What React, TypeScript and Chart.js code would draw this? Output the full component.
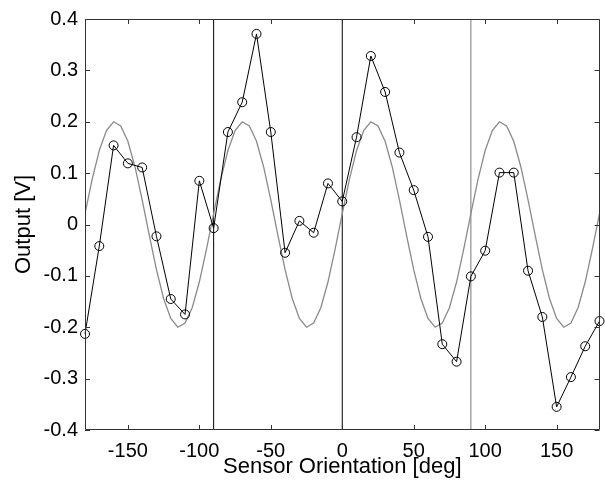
import React, { useEffect, useRef } from "react";
import { Chart, registerables } from "chart.js";

Chart.register(...registerables);

// Measured sensor output (every 10 deg)
const angles = [
  -180, -170, -160, -150, -140, -130, -120, -110, -100, -90, -80, -70, -60, -50, -40, -30, -20, -10,
  0, 10, 20, 30, 40, 50, 60, 70, 80, 90, 100, 110, 120, 130, 140, 150, 160, 170, 180,
];
const measured = [
  -0.213, -0.042, 0.154, 0.119, 0.111, -0.023, -0.145, -0.175, 0.085, -0.007, 0.18, 0.238, 0.371,
  0.18, -0.055, 0.007, -0.016, 0.08, 0.045, 0.17, 0.328, 0.258, 0.14, 0.067, -0.024, -0.233, -0.267,
  -0.101, -0.051, 0.101, 0.101, -0.09, -0.18, -0.355, -0.297, -0.237, -0.188,
];

// Reference (gray) curve, every 5 deg
const modelAngles = [
  -180, -175, -170, -165, -160, -155, -150, -145, -140, -135, -130, -125, -120, -115, -110, -105,
  -100, -95, -90, -85, -80, -75, -70, -65, -60, -55, -50, -45, -40, -35, -30, -25, -20, -15, -10, -5,
  0, 5, 10, 15, 20, 25, 30, 35, 40, 45, 50, 55, 60, 65, 70, 75, 80, 85, 90, 95, 100, 105, 110, 115,
  120, 125, 130, 135, 140, 145, 150, 155, 160, 165, 170, 175, 180,
];
const model = [
  0.021, 0.088, 0.144, 0.183, 0.2, 0.192, 0.162, 0.112, 0.048, -0.021, -0.088, -0.144, -0.183, -0.2,
  -0.192, -0.162, -0.112, -0.048,
  0.021, 0.088, 0.144, 0.183, 0.2, 0.192, 0.162, 0.112, 0.048, -0.021, -0.088, -0.144, -0.183, -0.2,
  -0.192, -0.162, -0.112, -0.048,
  0.021, 0.088, 0.144, 0.183, 0.2, 0.192, 0.162, 0.112, 0.048, -0.021, -0.088, -0.144, -0.183, -0.2,
  -0.192, -0.162, -0.112, -0.048,
  0.021, 0.088, 0.144, 0.183, 0.2, 0.192, 0.162, 0.112, 0.048, -0.021, -0.088, -0.144, -0.183, -0.2,
  -0.192, -0.162, -0.112, -0.048,
  0.021,
];

// Vertical reference lines
const refLines = [-90, 0, 90];
const refColors = ["#000000", "#000000", "#777777"];

const xTicks = [-150, -100, -50, 0, 50, 100, 150];
const yMin = -0.4;
const yMax = 0.4;

const FONT = "'Liberation Sans', Arial, Helvetica, sans-serif";

export default function App() {
  const ref = useRef<HTMLCanvasElement>(null);

  useEffect(() => {
    const boxPlugin = {
      id: "matlabBox",
      afterDatasetsDraw(chart: any) {
        const { ctx, chartArea: a, scales } = chart;
        const xs = scales.x;
        const ys = scales.y;
        ctx.save();
        ctx.strokeStyle = "#333333";
        ctx.lineWidth = 1;
        ctx.beginPath();
        ctx.rect(Math.round(a.left) + 0.5, Math.round(a.top) + 0.5, Math.round(a.right - a.left) - 1, Math.round(a.bottom - a.top) - 1);
        ctx.stroke();
        const tl = 5;
        ctx.beginPath();
        xTicks.forEach((v) => {
          const px = Math.round(xs.getPixelForValue(v)) + 0.5;
          ctx.moveTo(px, a.bottom);
          ctx.lineTo(px, a.bottom - tl);
          ctx.moveTo(px, a.top);
          ctx.lineTo(px, a.top + tl);
        });
        ys.ticks.forEach((t: any) => {
          const py = Math.round(ys.getPixelForValue(t.value)) + 0.5;
          ctx.moveTo(a.left, py);
          ctx.lineTo(a.left + tl, py);
          ctx.moveTo(a.right, py);
          ctx.lineTo(a.right - tl, py);
        });
        ctx.stroke();
        ctx.restore();
      },
    };

    const refDatasets = refLines.map((v, i) => ({
      label: "ref" + v,
      data: [
        { x: v, y: yMin },
        { x: v, y: yMax },
      ],
      borderColor: refColors[i],
      borderWidth: 1,
      pointRadius: 0,
      tension: 0,
      order: 3,
    }));

    const chart = new Chart(ref.current as HTMLCanvasElement, {
      type: "line",
      data: {
        datasets: [
          ...refDatasets,
          {
            label: "model",
            data: modelAngles.map((x, i) => ({ x, y: model[i] })),
            borderColor: "#8a8a8a",
            borderWidth: 1.3,
            pointRadius: 0,
            tension: 0,
            order: 2,
          },
          {
            label: "measured",
            data: angles.map((x, i) => ({ x, y: measured[i] })),
            borderColor: "#000000",
            borderWidth: 1,
            pointRadius: 4.5,
            pointStyle: "circle",
            pointBorderColor: "#000000",
            pointBackgroundColor: "rgba(255,255,255,0)",
            pointBorderWidth: 1,
            tension: 0,
            clip: false as any,
            order: 1,
          },
        ] as any,
      },
      options: {
        responsive: false,
        animation: false,
        events: [],
        layout: { padding: { top: 15, right: 4, left: 0, bottom: 0 } },
        plugins: {
          legend: { display: false },
          tooltip: { enabled: false },
        },
        scales: {
          x: {
            type: "linear",
            min: -180,
            max: 180,
            afterBuildTicks: (scale: any) => {
              scale.ticks = xTicks.map((v) => ({ value: v }));
            },
            afterFit: (scale: any) => {
              scale.height = 58;
            },
            grid: { display: false, drawTicks: false },
            border: { display: false },
            ticks: {
              color: "#000000",
              font: { family: FONT, size: 20 },
              padding: 9,
              maxRotation: 0,
              autoSkip: false,
              callback: (v: any) => String(v),
            },
            title: {
              display: true,
              text: "Sensor Orientation [deg]",
              color: "#000000",
              font: { family: FONT, size: 22 },
              padding: { top: 0, bottom: 8 },
            },
          },
          y: {
            type: "linear",
            min: yMin,
            max: yMax,
            afterFit: (scale: any) => {
              scale.width = 85;
            },
            grid: { display: false, drawTicks: false },
            border: { display: false },
            ticks: {
              stepSize: 0.1,
              color: "#000000",
              font: { family: FONT, size: 20 },
              padding: 7,
              callback: (v: any) => (Math.abs(v) < 1e-9 ? "0" : Number(v).toFixed(1)),
            },
            title: {
              display: true,
              text: "Output [V]",
              color: "#000000",
              font: { family: FONT, size: 22 },
              padding: { top: 11, bottom: 11 },
            },
          },
        },
      },
      plugins: [boxPlugin],
    });

    return () => chart.destroy();
  }, []);

  return (
    <div style={{ position: "fixed", left: 0, top: 0, width: 605, height: 488, background: "#ffffff" }}>
      <canvas ref={ref} width={605} height={488} style={{ display: "block" }} />
    </div>
  );
}
